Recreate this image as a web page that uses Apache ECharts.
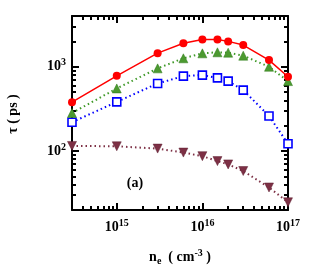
<!DOCTYPE html>
<html><head><meta charset="utf-8">
<script src="https://cdn.jsdelivr.net/npm/echarts@6/dist/echarts.min.js"></script>
<style>html,body{margin:0;padding:0;background:#fff}#c{width:310px;height:273px}</style>
</head><body><div id="c"></div>
<script>
var ne = [3e14, 1e15, 3e15, 6e15, 1e16, 1.5e16, 2e16, 3e16, 6e16, 1e17];
var redVals = [380, 780, 1450, 1900, 2100, 2100, 2000, 1810, 1200, 760];
var greenVals = [283, 553, 957, 1260, 1443, 1484, 1468, 1352, 1000, 676];
var blueVals = [220, 383, 634, 774, 796, 739, 676, 529, 261, 122];
var brownVals = [115, 114, 107, 96, 87, 76, 69.5, 58, 37, 24.7];
var xMajor = [1e15, 1e16, 1e17];
var xMinor = [4e14,5e14,6e14,7e14,8e14,9e14,2e15,3e15,4e15,5e15,6e15,7e15,8e15,9e15,2e16,3e16,4e16,5e16,6e16,7e16,8e16,9e16];
var yMajor = [100, 1000];
var yMinor = [20,30,40,50,60,70,80,90,200,300,400,500,600,700,800,900,2000,3000,4000];
var xRange = [3e14, 1e17];
var yRange = [20, 4000];

function pts(v){ return ne.map(function(x,i){ return [x, v[i]]; }); }
var serif = '"Liberation Serif","DejaVu Serif",serif';
var rich = {
  b: {fontFamily: serif, fontWeight: 'bold', fontSize: 14, color: '#000', lineHeight: 18},
  s: {fontFamily: serif, fontWeight: 'bold', fontSize: 10, color: '#000', lineHeight: 10, verticalAlign: 'top'}
};
function fmt(v){ var e = Math.round(Math.log10(v)); return '{b|10}{s|' + e + '}'; }

function ax(pos, range, major){
  return {
    type: 'log', logBase: 10, min: range[0], max: range[1], position: pos,
    axisLine: {show: true, onZero: false, lineStyle: {color: '#000', width: 2}},
    axisTick: {show: false},
    axisLabel: major ? {show: true, customValues: major, formatter: fmt, rich: rich, margin: pos === 'left' ? 6 : 8} : {show: false},
    splitLine: {show: false}, minorTick: {show: false}
  };
}
function tickAx(pos, range, ticks, len){
  return {
    type: 'value', min: Math.log10(range[0]), max: Math.log10(range[1]), position: pos,
    axisLine: {show: false},
    axisTick: {show: true, inside: true, length: len, customValues: ticks.map(function(v){ return Math.log10(v); }),
               lineStyle: {color: '#000', width: 2}},
    axisLabel: {show: false},
    splitLine: {show: false}
  };
}

var chart = echarts.init(document.getElementById('c'), null, {renderer: 'canvas'});
chart.setOption({
  animation: false,
  backgroundColor: '#fff',
  grid: {left: 72, right: 22, top: 16, bottom: 63, containLabel: false},
  xAxis: [ax('bottom', xRange, xMajor), ax('top', xRange, null),
          tickAx('bottom', xRange, xMajor, 7), tickAx('bottom', xRange, xMinor, 4),
          tickAx('top', xRange, xMajor, 7), tickAx('top', xRange, xMinor, 4)],
  yAxis: [ax('left', yRange, yMajor), ax('right', yRange, null),
          tickAx('left', yRange, yMajor, 7), tickAx('left', yRange, yMinor, 4),
          tickAx('right', yRange, yMajor, 7), tickAx('right', yRange, yMinor, 4)],
  graphic: [
    {type: 'text', x: 13, y: 114, rotation: Math.PI/2, style: {text: 'τ ( ps )', font: 'bold 14px ' + serif, fill: '#000', textAlign: 'center', textVerticalAlign: 'middle'}},
    {type: 'text', x: 180, y: 257, style: {rich: {
        m: {fontFamily: serif, fontWeight: 'bold', fontSize: 14, color: '#000', lineHeight: 18},
        sub: {fontFamily: serif, fontWeight: 'bold', fontSize: 10, color: '#000', lineHeight: 18, verticalAlign: 'bottom'},
        sup: {fontFamily: serif, fontWeight: 'bold', fontSize: 10, color: '#000', lineHeight: 10, verticalAlign: 'top'}
      }, text: '{m|n}{sub|e}{m|  ( cm}{sup|-3}{m| )}', textAlign: 'center', textVerticalAlign: 'middle'}},
    {type: 'text', x: 135, y: 183, style: {text: '(a)', font: 'bold 14px ' + serif, fill: '#000', textAlign: 'center', textVerticalAlign: 'middle'}}
  ],
  series: [
    {type: 'line', data: pts(brownVals), symbol: 'triangle', symbolRotate: 180, symbolSize: 9,
     lineStyle: {color: '#7d3045', width: 2, type: [1.5, 3]}, itemStyle: {color: '#7d3045', borderColor: '#5c1f30', borderWidth: 0.5}},
    {type: 'line', data: pts(blueVals), symbol: 'rect', symbolSize: 8,
     lineStyle: {color: '#0000ff', width: 2, type: [1.5, 3]}, itemStyle: {color: '#fff', borderColor: '#0000ff', borderWidth: 1.6}},
    {type: 'line', data: pts(greenVals), symbol: 'triangle', symbolSize: 9,
     lineStyle: {color: '#3f9a28', width: 2, type: [1.5, 3]}, itemStyle: {color: '#4c9a30', borderColor: '#2e7a1a', borderWidth: 0.5}},
    {type: 'line', data: pts(redVals), symbol: 'circle', symbolSize: 8,
     lineStyle: {color: '#ff0000', width: 1.5}, itemStyle: {color: '#ff0000'}}
  ]
});
</script></body></html>
